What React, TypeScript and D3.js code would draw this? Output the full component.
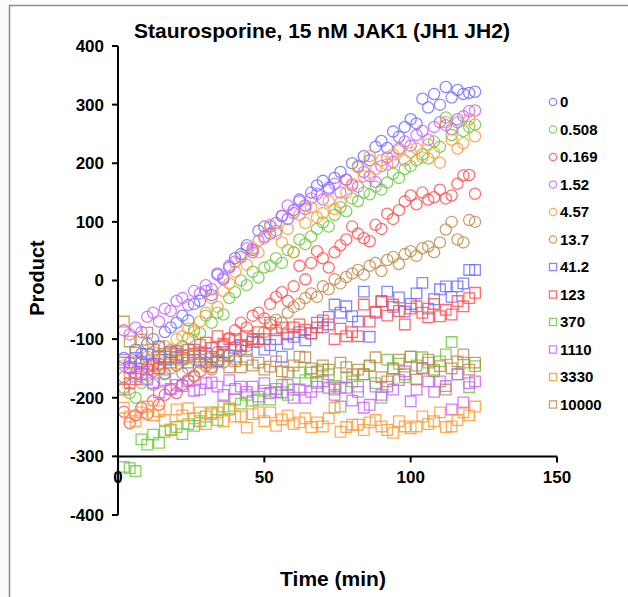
import React, { useMemo } from 'react'
import { scaleLinear, symbol, symbolSquare } from 'd3'

// sampling times (min)
const times = [
  2, 4, 6, 8, 10, 12, 14, 16, 18, 20,
  22, 24, 26, 28, 30, 32, 34, 36, 38, 40,
  42, 44, 46, 48, 50, 52, 54, 56, 58, 60,
  62, 64, 66, 68, 70, 72, 74, 76, 78, 80,
  82, 84, 86, 88, 90, 92, 94, 96, 98, 100,
  102, 104, 106, 108, 110, 112, 114, 116, 118, 120,
  122,
]

const concLabels = ['0', '0.508', '0.169', '1.52', '4.57', '13.7', '41.2', '123', '370', '1110', '3330', '10000']
const seriesColors = ['#6e6eff', '#6cc840', '#ff4d4d', '#c762ff', '#ff9a35', '#c08a48', '#6e6eff', '#ff4d4d', '#6cc840', '#c762ff', '#ff9a35', '#c08a48']
const seriesShapes = ['circle', 'circle', 'circle', 'circle', 'circle', 'circle', 'square', 'square', 'square', 'square', 'square', 'square']

const c0 = [
  -132, -140, -118, -125, -108, -100, -112, -88, -80, -72,
  -60, -68, -40, -35, -18, -25, 10, 2, 22, 38,
  45, 60, 52, 85, 92, 80, 98, 110, 105, 120,
  138, 128, 150, 162, 170, 158, 175, 185, 172, 200,
  195, 212, 205, 228, 238, 226, 254, 245, 262, 275,
  268, 310, 295, 318, 300, 330, 312, 325, 318, 320,
  322,
]
const c0508 = [
  -183, -192, -200, -175, -168, -178, -150, -158, -135, -120,
  -112, -98, -84, -90, -60, -72, -55, -58, -30, -20,
  0, -8, 15, 5, 22, 25, 38, 30, 52, 48,
  70, 62, 75, 88, 99, 92, 112, 125, 118, 140,
  135, 150, 147, 160, 155, 167, 182, 175, 190, 195,
  205, 215, 208, 237, 228, 278, 248, 270, 255, 262,
  266,
]
const c0169 = [
  -224, -243, -230, -217, -228, -205, -212, -195, -186, -192,
  -178, -170, -164, -155, -140, -148, -122, -110, -98, -85,
  -72, -80, -60, -55, -65, -40, -28, -20, -35, -10,
  25, 2, 30, 50, 38, 22, 48, 60, 70, 92,
  80, 72, 67, 95, 88, 114, 105, 120, 135, 145,
  130, 150, 138, 142, 155, 140, 145, 165, 179, 180,
  148,
]
const c152 = [
  -85, -92, -80, -88, -62, -55, -70, -48, -52, -35,
  -30, -42, -18, -22, -8, -15, 12, 5, 25, 32,
  40, 55, 48, 68, 75, 92, 85, 110, 128, 115,
  135, 122, 140, 148, 138, 155, 165, 150, 172, 162,
  160, 185, 178, 168, 195, 210, 202, 225, 237, 230,
  248, 255, 240, 262, 270, 265, 258, 275, 280, 289,
  290,
]
const c457 = [
  -145, -160, -138, -150, -130, -122, -135, -112, -118, -100,
  -95, -82, -88, -70, -55, -30, -45, -18, -5, 15,
  40, 27, 55, 48, 72, 95, 80, 65, 88, 48,
  112, 98, 125, 108, 115, 135, 122, 133, 150, 165,
  193, 178, 212, 190, 205, 198, 215, 222, 205, 218,
  225, 210, 232, 218, 201, 270, 240, 225, 234, 275,
  246,
]
const c137 = [
  -165, -150, -158, -140, -148, -155, -142, -160, -150, -145,
  -158, -150, -162, -140, -146, -152, -138, -140, -128, -135,
  -118, -112, -100, -105, -88, -75, -67, -72, -55, -45,
  -40, -30, -22, -28, -10, -15, 2, -5, 6, 12,
  18, 10, 25, 30, 16, 35, 40, 28, 45, 50,
  42, 55, 58, 48, 65, 87, 100, 70, 65, 103,
  100,
]
const c412 = [
  -140, -148, -132, -138, -126, -142, -130, -135, -122, -131,
  -128, -140, -118, -135, -125, -130, -138, -122, -128, -115,
  -112, -120, -105, -100, -118, -110, -100, -130, -108, -96,
  -88, -102, -90, -72, -80, -62, -41, -55, -44, -61,
  -70, -19, -96, -55, -35, -19, -45, -29, -53, -40,
  -22, -4, -48, -32, -15, -10, -28, -10, -5, 18,
  18,
]
const c123 = [
  -186, -175, -168, -160, -152, -145, -150, -130, -140, -125,
  -132, -118, -125, -110, -106, -115, -95, -108, -100, -100,
  -110, -95, -100, -88, -100, -72, -85, -80, -92, -80,
  -75, -84, -90, -80, -68, -75, -100, -82, -95, -88,
  -95, -41, -70, -53, -36, -60, -41, -52, -75, -48,
  -44, -55, -63, -40, -61, -50, -58, -35, -44, -30,
  -21,
]
const c370 = [
  -318, -320, -325, -271, -280, -263, -277, -258, -255, -250,
  -262, -245, -248, -240, -232, -225, -238, -215, -220, -203,
  -210, -195, -205, -203, -188, -203, -190, -178, -195, -186,
  -157, -170, -157, -175, -152, -160, -180, -215, -165, -172,
  -181, -160, -146, -175, -200, -135, -150, -142, -165, -130,
  -145, -131, -140, -152, -138, -126, -105, -160, -140, -182,
  -146,
]
const c1110 = [
  -135, -148, -164, -160, -169, -175, -191, -170, -185, -178,
  -180, -172, -188, -186, -175, -174, -181, -195, -170, -185,
  -181, -190, -181, -198, -175, -192, -185, -191, -178, -200,
  -186, -200, -190, -181, -172, -183, -195, -183, -183, -205,
  -190, -217, -212, -181, -195, -181, -186, -170, -155, -206,
  -186, -149, -172, -190, -172, -180, -220, -160, -208, -175,
  -172,
]
const c3330 = [
  -217, -232, -240, -225, -215, -230, -223, -238, -254, -220,
  -230, -218, -235, -225, -245, -228, -225, -240, -218, -232,
  -232, -251, -228, -225, -240, -225, -248, -237, -230, -245,
  -242, -235, -250, -242, -249, -235, -217, -258, -250, -246,
  -246, -255, -242, -238, -249, -255, -260, -240, -249, -252,
  -249, -232, -245, -240, -225, -250, -249, -238, -225, -230,
  -215,
]
const c10000 = [
  -70, -104, -123, -101, -89, -118, -113, -125, -130, -120,
  -135, -128, -130, -122, -130, -140, -135, -128, -148, -138,
  -148, -135, -145, -140, -152, -147, -138, -155, -157, -145,
  -130, -131, -150, -155, -145, -152, -186, -140, -148, -160,
  -152, -160, -145, -131, -165, -172, -150, -135, -160, -130,
  -169, -150, -135, -155, -146, -186, -150, -138, -126, -152,
  -140,
]

const seriesValues = [c0, c0508, c0169, c152, c457, c137, c412, c123, c370, c1110, c3330, c10000]

const xTicks = [0, 50, 100, 150]
const yTicks = [-400, -300, -200, -100, 0, 100, 200, 300, 400]

const W = 628
const H = 597
const font = 'Arial, "Liberation Sans", sans-serif'

export default function App() {
  const x = useMemo(() => scaleLinear().domain([0, 150]).range([118, 557]), [])
  const y = useMemo(() => scaleLinear().domain([-400, 400]).range([515, 46]), [])
  const xAxisY = y(-300)

  const square = symbol().type(symbolSquare).size(112)()
  const legendSquare = symbol().type(symbolSquare).size(50)()

  const marker = (shape: string, color: string, cx: number, cy: number, key: string, small?: boolean) =>
    shape === 'circle' ? (
      <circle key={key} cx={cx} cy={cy} r={small ? 3.7 : 5.6} fill='none' stroke={color} strokeWidth={1.3} strokeOpacity={0.82} />
    ) : (
      <path key={key} d={small ? legendSquare : square} transform={`translate(${cx},${cy})`} fill='none' stroke={color} strokeWidth={1.3} strokeOpacity={0.82} />
    )

  return (
    <svg width={W} height={H} style={{ position: 'absolute', left: 0, top: 0, background: '#fff' }} fontFamily={font}>
      <rect x={0} y={0} width={W} height={H} fill='#fbfbfb' />
      <rect x={9.5} y={5.5} width={W} height={H} fill='#fff' stroke='#8c8c8c' strokeWidth={1.5} />

      <text x={322} y={38} textAnchor='middle' fontSize={21} fontWeight='bold'>
        Staurosporine, 15 nM JAK1 (JH1 JH2)
      </text>

      {/* points */}
      <g>
        {seriesValues.map((vals, si) => (
          <g key={concLabels[si]}>
            {vals.map((v, i) => marker(seriesShapes[si], seriesColors[si], x(times[i]), y(v), `${si}-${i}`))}
          </g>
        ))}
      </g>

      {/* axes */}
      <g stroke='#000' strokeWidth={2}>
        <line x1={x(0)} x2={x(0)} y1={y(400)} y2={y(-400)} />
        {yTicks.map(t => (
          <line key={t} x1={x(0) - 6} x2={x(0)} y1={y(t)} y2={y(t)} />
        ))}
        <line x1={x(0)} x2={x(150)} y1={xAxisY} y2={xAxisY} />
        {xTicks.map(t => (
          <line key={t} x1={x(t)} x2={x(t)} y1={xAxisY} y2={xAxisY + 6} />
        ))}
      </g>
      <g fontSize={17} fontWeight='bold' textAnchor='end'>
        {yTicks.map(t => (
          <text key={t} x={104} y={y(t)} dy='0.35em'>
            {t}
          </text>
        ))}
      </g>
      <g fontSize={17} fontWeight='bold' textAnchor='middle'>
        {xTicks.map(t => (
          <text key={t} x={x(t)} y={xAxisY + 27}>
            {t}
          </text>
        ))}
      </g>

      <text x={333} y={586} textAnchor='middle' fontSize={21} fontWeight='bold'>
        Time (min)
      </text>
      <text transform='translate(44,278) rotate(-90)' textAnchor='middle' fontSize={20} fontWeight='bold'>
        Product
      </text>

      {/* legend */}
      <g fontSize={15} fontWeight='bold'>
        {concLabels.map((l, i) => {
          const ly = 102 + i * 27.5
          return (
            <g key={l}>
              {marker(seriesShapes[i], seriesColors[i], 553, ly, `lg-${i}`, true)}
              <text x={560} y={ly} dy='0.36em'>
                {l}
              </text>
            </g>
          )
        })}
      </g>
    </svg>
  )
}
